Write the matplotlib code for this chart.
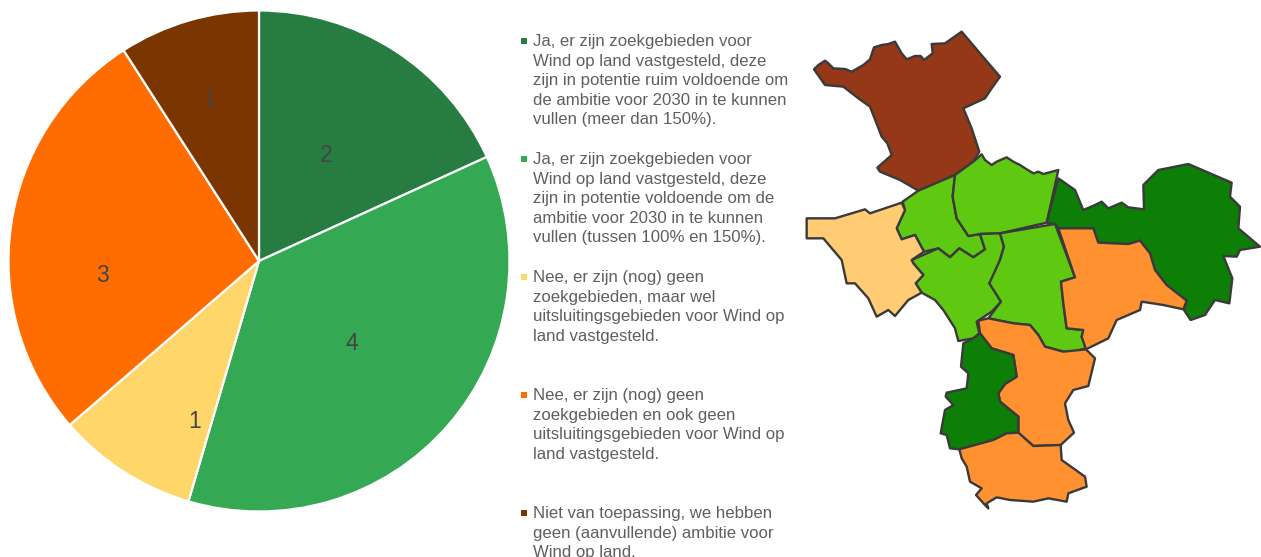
import matplotlib
matplotlib.use("Agg")
import matplotlib.pyplot as plt
from matplotlib.patches import Polygon, Rectangle

W, H = 1261, 557
pie_values = [2, 4, 1, 3, 1]
pie_colors = ["#277D41", "#34A853", "#FED66A", "#FF6D01", "#7B3500"]
legend_labels = [
    ["Ja, er zijn zoekgebieden voor", "Wind op land vastgesteld, deze", "zijn in potentie ruim voldoende om",
     "de ambitie voor 2030 in te kunnen", "vullen (meer dan 150%)."],
    ["Ja, er zijn zoekgebieden voor", "Wind op land vastgesteld, deze", "zijn in potentie voldoende om de",
     "ambitie voor 2030 in te kunnen", "vullen (tussen 100% en 150%)."],
    ["Nee, er zijn (nog) geen", "zoekgebieden, maar wel", "uitsluitingsgebieden voor Wind op",
     "land vastgesteld."],
    ["Nee, er zijn (nog) geen", "zoekgebieden en ook geen", "uitsluitingsgebieden voor Wind op",
     "land vastgesteld."],
    ["Niet van toepassing, we hebben", "geen (aanvullende) ambitie voor", "Wind op land."],
]
legend_tops = [41, 159, 277, 395, 513]
# hand-placed label anchors in the reference (pixel positions)
pie_label_px = [(326, 155), (352, 343), (195, 422), (102, 275), (210, 100)]

BROWN, LIME, SAND, FOREST, ORANGE = "#943818", "#5FC911", "#FFCC73", "#0D7F07", "#FF9130"
# Map outlines (3x scale, origin at pixel 800,20)
regions = [
    (BROWN, [(42,148),(55,135),(75,122),(85,130),(100,145),(135,147),(155,155),(190,135),(210,118),(222,82),(245,75),(265,72),(285,65),(305,100),(320,118),(345,108),(362,108),(372,120),(398,100),(395,72),(435,70),(485,35),(540,100),(600,170),(575,205),(555,235),(490,265),(515,325),(538,395),(520,425),(465,465),(355,512),(300,480),(240,455),(232,443),(275,405),(262,370),(245,350),(210,260),(175,235),(130,200),(75,195)]),
    (LIME, [(355,512),(465,465),(458,530),(470,595),(505,648),(540,642),(555,688),(520,712),(478,685),(450,712),(415,685),(372,695),(345,645),(305,658),(290,625),(315,570),(308,545)]),
    (LIME, [(545,403),(555,420),(575,435),(590,425),(620,412),(640,425),(660,435),(680,448),(700,460),(715,455),(730,462),(775,450),(740,608),(600,640),(540,642),(505,648),(470,595),(458,530),(465,465),(520,425)]),
    (LIME, [(335,720),(415,685),(450,712),(478,685),(520,712),(555,688),(540,642),(600,640),(612,680),(600,720),(585,770),(568,790),(585,815),(603,845),(575,875),(530,905),(538,940),(520,955),(475,963),(465,925),(430,870),(405,840),(365,818),(347,790),(370,765),(340,730)]),
    (LIME, [(600,640),(765,612),(825,772),(783,785),(790,850),(800,925),(850,930),(845,950),(858,985),(820,995),(790,995),(735,980),(715,945),(690,915),(640,910),(565,895),(603,845),(568,790),(600,720),(612,680)]),
    (SAND, [(20,595),(105,595),(195,568),(210,580),(305,548),(315,570),(290,625),(305,658),(345,645),(372,695),(335,720),(340,730),(370,765),(347,790),(365,818),(325,840),(285,888),(265,870),(230,890),(205,835),(165,790),(140,790),(125,720),(70,655),(20,655)]),
    (FOREST, [(775,475),(825,510),(850,570),(885,555),(905,545),(925,565),(965,548),(985,562),(1032,568),(1030,495),(1075,450),(1165,432),(1295,488),(1290,530),(1320,560),(1315,625),(1380,680),(1320,690),(1310,710),(1270,708),(1297,775),(1288,850),(1245,840),(1225,870),(1215,885),(1172,900),(1152,870),(1160,842),(1100,795),(1065,750),(1050,700),(1020,662),(985,672),(895,668),(880,625),(775,625),(765,612),(740,608)]),
    (ORANGE, [(775,625),(880,625),(895,668),(985,672),(1020,662),(1050,700),(1065,750),(1100,795),(1160,842),(1150,868),(1090,855),(1025,845),(1020,870),(950,900),(925,955),(858,988),(845,950),(850,930),(800,925),(790,850),(783,785),(825,772)]),
    (ORANGE, [(535,902),(565,895),(640,910),(690,915),(715,945),(735,980),(790,995),(858,988),(885,1015),(865,1098),(820,1110),(795,1150),(805,1200),(822,1238),(782,1275),(700,1278),(655,1238),(655,1190),(600,1145),(595,1120),(615,1092),(650,1070),(640,1005),(575,985),(540,940)]),
    (FOREST, [(540,940),(575,985),(640,1005),(650,1070),(615,1092),(595,1120),(600,1145),(655,1190),(655,1238),(620,1240),(580,1260),(478,1288),(450,1285),(440,1245),(422,1240),(435,1170),(460,1155),(437,1130),(440,1118),(500,1105),(505,1060),(483,1040),(490,970),(520,955)]),
    (ORANGE, [(478,1288),(580,1260),(620,1240),(655,1238),(700,1278),(782,1275),(785,1320),(855,1370),(860,1400),(805,1420),(800,1445),(745,1435),(700,1445),(630,1440),(590,1432),(560,1450),(565,1465),(555,1455),(528,1425),(545,1405),(510,1385),(500,1340),(485,1315)]),
]

plt.rcParams["font.family"] = ["Liberation Sans", "DejaVu Sans"]
fig = plt.figure(figsize=(W / 100, H / 100), dpi=100, facecolor="white")

# overlay in pixel coordinates
ov = fig.add_axes([0, 0, 1, 1])
ov.set_xlim(0, W)
ov.set_ylim(H, 0)
ov.axis("off")

for color, pts in regions:
    xy = [(800 + x / 3, 20 + y / 3) for x, y in pts]
    ov.add_patch(Polygon(xy, closed=True, facecolor=color, edgecolor="#3A3A3A", linewidth=1.7, joinstyle="round"))

for color, lines, top in zip(pie_colors, legend_labels, legend_tops):
    ov.add_patch(Rectangle((521, top - 3.5), 6, 6, facecolor=color, edgecolor="none"))
    for i, line in enumerate(lines):
        ov.text(533, top + 0.5 + i * 19.55, line, fontsize=12.1, color="#5F5F5F", va="center", ha="left")

# pie
CX, CY, R = 259, 261, 250.5
ax = fig.add_axes([(CX - R) / W, 1 - (CY + R) / H, 2 * R / W, 2 * R / H])
wedges, _ = ax.pie(pie_values, colors=pie_colors, startangle=90, counterclock=False, radius=1,
                   wedgeprops={"edgecolor": "white", "linewidth": 1.6})
ax.set_xlim(-1, 1)
ax.set_ylim(-1, 1)
for v, (px, py) in zip(pie_values, pie_label_px):
    ov_text = ax.text((px - CX) / R, (CY - py) / R, str(v), fontsize=16.5, color="#444444", ha="center", va="center")

fig.savefig("out.png", dpi=100)
